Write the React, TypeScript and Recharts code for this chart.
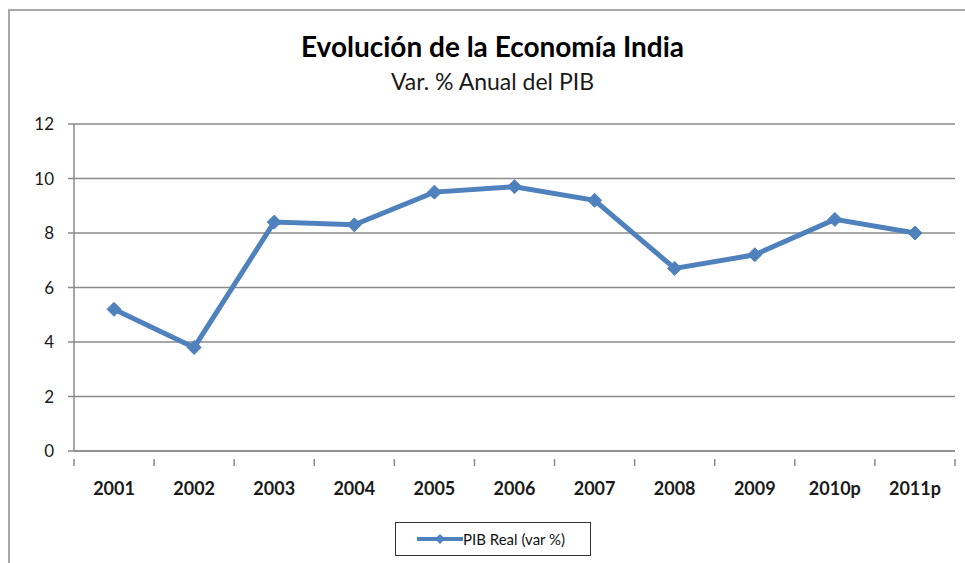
import React from "react";
import { LineChart, Line, XAxis, YAxis, CartesianGrid } from "recharts";

const years = ["2001", "2002", "2003", "2004", "2005", "2006", "2007", "2008", "2009", "2010p", "2011p"];
const pibReal = [5.2, 3.8, 8.4, 8.3, 9.5, 9.7, 9.2, 6.7, 7.2, 8.5, 8.0];
const yTicks = [0, 2, 4, 6, 8, 10, 12];

const data = years.map((year, i) => ({ year, pib: pibReal[i] }));

const BLUE = "#4F81BD";
const GRID = "#8a8a8a";
const FONT = "Lato, 'Open Sans', sans-serif";

// plot area: x 74..955, so each category is 881/11 wide
const PLOT_LEFT = 74;
const PLOT_RIGHT = 955;
const BAND = (PLOT_RIGHT - PLOT_LEFT) / years.length;

function Diamond(props: any) {
  const { cx, cy } = props;
  if (cx == null || cy == null) return null;
  const r = 7;
  return (
    <polygon
      points={`${cx},${cy - r} ${cx + r},${cy} ${cx},${cy + r} ${cx - r},${cy}`}
      fill={BLUE}
      stroke={BLUE}
    />
  );
}

// year label plus the boundary tick marks (Excel style, between categories)
function YearTick(props: any) {
  const { x, y, payload, index } = props;
  const left = x - BAND / 2;
  return (
    <g>
      <line x1={left} y1={y} x2={left} y2={y + 7} stroke={GRID} strokeWidth={1.5} />
      {index === years.length - 1 && (
        <line x1={left + BAND} y1={y} x2={left + BAND} y2={y + 7} stroke={GRID} strokeWidth={1.5} />
      )}
      <text x={x} y={y + 36} textAnchor="middle" fontFamily={FONT} fontWeight={700} fontSize={18} fill="#1a1a1a">
        {payload.value}
      </text>
    </g>
  );
}

export default function App() {
  return (
    <div style={{ position: "fixed", left: 0, top: 0, width: 965, height: 563, background: "#fff", overflow: "hidden" }}>
      {/* frame of the chart area, only top/left edges are visible in the crop */}
      <div
        style={{
          position: "absolute",
          left: 8,
          top: 9,
          width: 1000,
          height: 600,
          borderLeft: "2px solid #a9a9a9",
          borderTop: "2px solid #a9a9a9",
        }}
      />
      <div
        style={{
          position: "absolute",
          left: 0,
          width: 985,
          top: 29,
          textAlign: "center",
          fontFamily: FONT,
          fontWeight: 700,
          fontSize: 28,
          color: "#000",
        }}
      >
        Evolución de la Economía India
      </div>
      <div
        style={{
          position: "absolute",
          left: 0,
          width: 985,
          top: 67,
          textAlign: "center",
          fontFamily: FONT,
          fontSize: 23,
          color: "#1a1a1a",
        }}
      >
        Var. % Anual del PIB
      </div>

      <div style={{ position: "absolute", left: 0, top: 0 }}>
        <LineChart width={965} height={563} data={data} margin={{ top: 124, right: 10, bottom: 62, left: 0 }}>
          <CartesianGrid vertical={false} stroke={GRID} strokeWidth={1.5} />
          <XAxis
            dataKey="year"
            scale="band"
            height={50}
            axisLine={{ stroke: GRID, strokeWidth: 1.5 }}
            tickLine={false}
            tick={<YearTick />}
            interval={0}
          />
          <YAxis
            width={74}
            domain={[0, 12]}
            ticks={yTicks}
            interval={0}
            axisLine={{ stroke: GRID, strokeWidth: 1.5 }}
            tickLine={{ stroke: GRID, strokeWidth: 1.5 }}
            tickSize={6}
            tickMargin={14}
            tick={{ fontFamily: FONT, fontSize: 17, fill: "#1a1a1a" }}
          />
          <Line
            dataKey="pib"
            stroke={BLUE}
            strokeWidth={5}
            dot={<Diamond />}
            activeDot={false}
            isAnimationActive={false}
          />
        </LineChart>
      </div>

      {/* legend box */}
      <div
        style={{
          position: "absolute",
          left: 395,
          top: 522,
          width: 196,
          height: 34,
          border: "1.5px solid #333",
          boxSizing: "border-box",
          display: "flex",
          alignItems: "center",
          fontFamily: FONT,
          fontSize: 15,
          color: "#111",
        }}
      >
        <svg width={46} height={16} style={{ marginLeft: 21 }}>
          <line x1={0} y1={8} x2={46} y2={8} stroke={BLUE} strokeWidth={4} />
          <polygon points="23,3 28,8 23,13 18,8" fill={BLUE} />
        </svg>
        <span>PIB Real (var %)</span>
      </div>
    </div>
  );
}
